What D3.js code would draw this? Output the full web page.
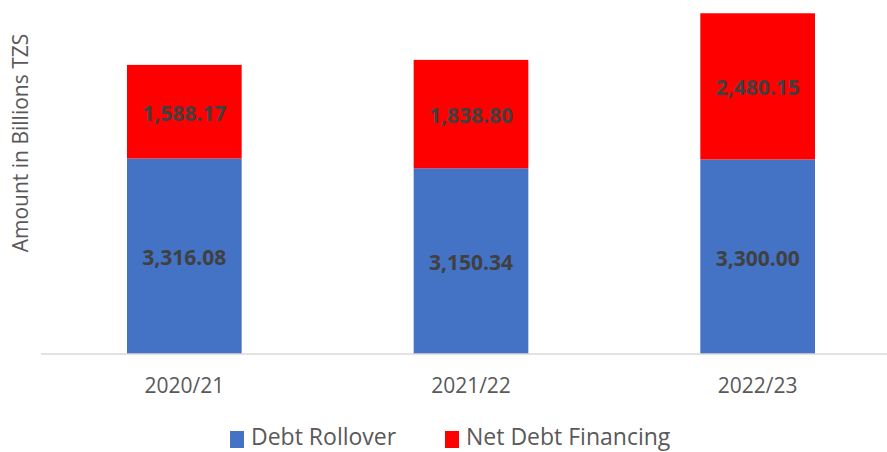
<!DOCTYPE html>
<html>
<head>
<meta charset="utf-8">
<script src="https://cdn.jsdelivr.net/npm/d3@7"></script>
<style>
    body { margin: 0; background: #ffffff; }
    svg { display: block; font-family: "Open Sans", sans-serif; }
</style>
</head>
<body>
<div id="chart"></div>
<script>
// data
var years = ["2020/21", "2021/22", "2022/23"];
var debtRollover = [3316.08, 3150.34, 3300.00];
var netDebtFinancing = [1588.17, 1838.80, 2480.15];
var seriesNames = ["Debt Rollover", "Net Debt Financing"];
var seriesColors = ["#4472C4", "#FF0000"];

var width = 887;
var height = 452;

var svg = d3.select("#chart").append("svg")
    .attr("width", width)
    .attr("height", height)

var data = years.map(function (d, i) {
    return { year: d, rollover: debtRollover[i], net: netDebtFinancing[i] };
});

var stack = d3.stack().keys(["rollover", "net"]);
var series = stack(data);

var x = d3.scaleBand()
    .domain(years)
    .range([41, 901])
    .paddingInner(0.6)
    .paddingOuter(0.3);

var y = d3.scaleLinear()
    .domain([0, 6000])
    .range([354, 0.3]);

var formatVal = d3.format(",.2f");

// bars
var layer = svg.selectAll("g.layer")
    .data(series)
    .enter()
    .append("g")
    .attr("class", "layer")
    .attr("fill", function (d, i) {
        return seriesColors[i];
    })

layer.selectAll("rect")
    .data(function (d) { return d; })
    .enter()
    .append("rect")
    .attr("x", function (d) { return x(d.data.year); })
    .attr("y", function (d) { return y(d[1]); })
    .attr("width", x.bandwidth())
    .attr("height", function (d) { return y(d[0]) - y(d[1]); })

// value labels
layer.selectAll("text")
    .data(function (d) { return d; })
    .enter()
    .append("text")
    .attr("x", function (d) { return x(d.data.year) + x.bandwidth() / 2; })
    .attr("y", function (d) { return (y(d[0]) + y(d[1])) / 2; })
    .attr("dy", "0.42em")
    .attr("text-anchor", "middle")
    .attr("fill", "#404040")
    .style("font-size", "21px")
    .style("font-weight", "bold")
    .text(function (d) { return formatVal(d[1] - d[0]); })

// x axis
var xAxis = d3.axisBottom(x).tickSize(0).tickPadding(24);
var gx = svg.append("g")
    .attr("class", "x-axis")
    .attr("transform", "translate(0," + y(0) + ")")
    .call(xAxis)
gx.select(".domain").remove();
gx.append("line")
    .attr("x1", 41)
    .attr("x2", width)
    .attr("stroke", "#d9d9d9")
    .attr("stroke-width", 1.5)
gx.selectAll("text")
    .attr("fill", "#595959")
    .style("font-family", "Open Sans, sans-serif")
    .style("font-size", "21px")

// y label
svg.append("text")
    .attr("transform", "translate(28,143) rotate(-90)")
    .attr("text-anchor", "middle")
    .attr("fill", "#595959")
    .style("font-size", "21px")
    .text("Amount in Billions TZS")

// legend
var legend = svg.append("g").attr("class", "legend");
var legendX = [230, 445];
seriesNames.forEach(function (name, i) {
    legend.append("rect")
        .attr("x", legendX[i])
        .attr("y", 431)
        .attr("width", 14)
        .attr("height", 17)
        .attr("fill", seriesColors[i])
    legend.append("text")
        .attr("x", legendX[i] + 21)
        .attr("y", 445)
        .attr("fill", "#595959")
        .style("font-size", "23px")
        .text(name)
})
</script>
</body>
</html>
